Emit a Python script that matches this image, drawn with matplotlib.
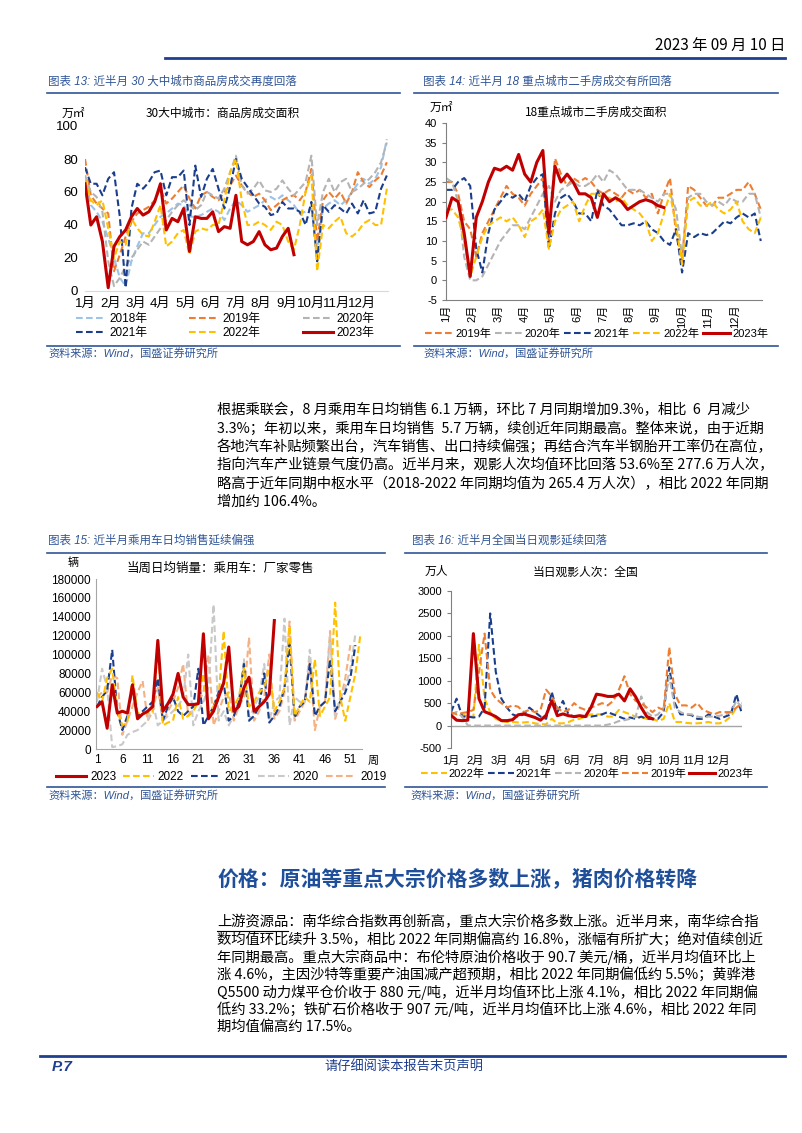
import numpy as np
import matplotlib.pyplot as plt
from matplotlib.lines import Line2D

plt.rcParams['font.family'] = ['Liberation Sans', 'Noto Sans CJK SC']
plt.rcParams['axes.unicode_minus'] = False

# ---------------- data ----------------
months = ['1月', '2月', '3月', '4月', '5月', '6月', '7月', '8月', '9月', '10月', '11月', '12月']

# chart 13: 30 city new home sales, weekly (万㎡)
c13_2018 = [70, 52, 48, 42, 32, 20, 8, 3, 18, 27, 35, 35, 40, 45, 47, 50, 53, 52, 45, 45,
            46, 48, 50, 48, 43, 50, 55, 52, 48, 50, 52, 55, 57, 55, 58, 55, 52, 47, 48, 50,
            25, 50, 53, 55, 52, 55, 60, 65, 68, 65, 68, 75, 92]
c13_2019 = [80, 58, 53, 50, 47, 12, 22, 33, 42, 47, 49, 51, 55, 62, 53, 56, 60, 64, 56, 50,
            58, 60, 57, 55, 60, 64, 70, 64, 60, 57, 59, 55, 49, 52, 55, 57, 58, 55, 60, 74,
            30, 55, 60, 56, 60, 53, 60, 72, 66, 63, 67, 70, 78]
c13_2020 = [70, 60, 57, 48, 18, 3, 8, 15, 20, 25, 30, 28, 33, 38, 43, 48, 52, 55, 52, 49,
            52, 60, 58, 56, 62, 72, 82, 64, 59, 62, 67, 61, 60, 62, 67, 62, 58, 62, 66, 82,
            40, 60, 68, 60, 66, 68, 60, 62, 65, 68, 72, 78, 90]
c13_2021 = [75, 65, 65, 58, 68, 72, 45, 2, 50, 65, 62, 66, 72, 73, 58, 69, 69, 73, 40, 76,
            57, 68, 74, 62, 50, 63, 80, 68, 63, 58, 53, 51, 46, 47, 54, 50, 50, 48, 40, 54,
            18, 52, 48, 52, 50, 47, 53, 47, 55, 47, 48, 62, 70]
c13_2022 = [68, 55, 52, 55, 38, 20, 30, 28, 44, 38, 34, 33, 42, 52, 27, 30, 35, 37, 22, 36,
            38, 37, 40, 40, 55, 72, 80, 55, 40, 40, 42, 40, 37, 42, 40, 30, 25, 40, 60, 70,
            12, 40, 38, 42, 45, 35, 33, 36, 41, 43, 40, 40, 62]
c13_2023 = [65, 40, 45, 30, 2, 27, 33, 37, 45, 50, 46, 48, 54, 65, 37, 44, 42, 50, 24, 45,
            44, 44, 48, 36, 39, 38, 58, 30, 28, 30, 36, 28, 25, 26, 33, 38, 22]

# chart 14: 18 city second-hand home sales, weekly (万㎡)
c14_2019 = [25, 25, 22, 15, 13, 6, 12, 15, 18, 21, 24, 22, 21, 19, 22, 24, 26, 10, 31, 27,
            24, 26, 25, 26, 25, 23, 22, 23, 22, 21, 23, 22, 23, 21, 22, 17, 22, 26, 12, 5,
            24, 23, 21, 19, 19, 21, 21, 22, 23, 23, 25, 22, 18]
c14_2020 = [26, 25, 20, 6, 0, 0, 1, 4, 7, 10, 12, 14, 14, 13, 16, 19, 22, 24, 20, 23,
            24, 25, 24, 24, 25, 27, 25, 28, 27, 25, 23, 23, 23, 22, 21, 20, 22, 22, 18, 6,
            21, 22, 22, 20, 19, 20, 19, 21, 20, 20, 22, 22, 16]
c14_2021 = [23, 23, 25, 26, 24, 8, 2, 12, 18, 20, 22, 21, 22, 20, 24, 26, 27, 8, 17, 21,
            22, 20, 17, 17, 15, 23, 19, 18, 16, 14, 14, 14.5, 14, 15, 13, 12, 10, 9, 13, 2,
            12, 11, 12, 11.5, 12, 13.5, 15, 14.5, 16, 17, 16, 17, 10]
c14_2022 = [18, 18, 16, 10, 1, 6, 11, 14, 15, 16, 15, 16, 14, 11, 15, 16, 18, 8, 15, 18,
            19, 20, 15, 19, 22, 22, 21, 21, 20, 21, 19, 18, 17, 15, 10, 12, 17, 22, 14, 4,
            20, 21, 19, 19, 20, 18, 17, 18, 20, 15, 13, 12, 16]
c14_2023 = [16, 21, 20, 12, 1, 16, 20, 25, 28.5, 28, 29, 28, 32, 27, 25, 30, 33, 12, 29, 25,
            27, 25, 22, 22, 21, 16, 22, 20, 21, 20, 18, 19, 20, 20.5, 20, 19, 18.5]

# chart 15: passenger car daily sales by week (辆)
c15_2023 = [45000, 50000, 22000, 68000, 38000, 40000, 38000, 68000, 32000, 37000,
            40000, 45000, 115000, 40000, 48000, 58000, 80000, 55000, 47000, 47000,
            48000, 122000, 32000, 40000, 55000, 70000, 108000, 40000, 45000, 65000,
            76000, 40000, 45000, 50000, 58000, 136000]
c15_2022 = [60000, 50000, 75000, 85000, 40000, 25000, 28000, 78000, 38000, 38000,
            38000, 38000, 110000, 25000, 28000, 30000, 55000, 32000, 35000, 40000,
            50000, 80000, 35000, 45000, 55000, 125000, 40000, 45000, 55000, 85000,
            45000, 50000, 60000, 65000, 85000, 40000, 50000, 65000, 130000, 35000,
            45000, 55000, 50000, 95000, 35000, 45000, 55000, 155000, 55000, 30000,
            55000, 80000, 122000]
c15_2021 = [45000, 55000, 62000, 105000, 40000, 20000, 35000, 65000, 35000, 40000,
            45000, 50000, 75000, 30000, 45000, 55000, 40000, 35000, 40000, 45000,
            85000, 25000, 35000, 45000, 60000, 70000, 30000, 35000, 50000, 90000,
            30000, 35000, 45000, 80000, 28000, 35000, 45000, 65000, 112000, 33000,
            45000, 50000, 90000, 35000, 45000, 50000, 95000, 40000, 50000, 60000,
            75000, 110000]
c15_2020 = [50000, 85000, 65000, 2000, 3000, 5000, 15000, 18000, 20000, 25000,
            30000, 50000, 25000, 30000, 35000, 40000, 45000, 55000, 100000, 25000,
            40000, 50000, 65000, 153000, 30000, 40000, 25000, 35000, 45000, 95000,
            30000, 45000, 55000, 90000, 30000, 50000, 55000, 138000, 25000, 55000,
            50000, 50000, 105000, 35000, 45000, 50000, 120000, 35000, 55000, 65000,
            85000, 122000]
c15_2019 = [55000, 60000, 60000, 78000, 75000, 15000, 30000, 45000, 60000, 72000,
            30000, 40000, 65000, 30000, 40000, 50000, 65000, 90000, 35000, 45000,
            50000, 60000, 100000, 25000, 40000, 55000, 60000, 30000, 45000, 55000,
            118000, 30000, 40000, 55000, 100000, 32000, 40000, 60000, 135000, 30000,
            40000, 50000, 95000, 20000, 45000, 50000, 125000, 32000, 50000, 75000,
            110000]

# chart 16: daily box office attendance, weekly samples (万人)
c16_2022 = [250, 300, 250, 200, 200, 1800, 600, 300, 150, 100, 80, 80, 70, 70, 80, 50, 30, 30, 150, 50,
            50, 80, 130, 150, 200, 250, 250, 250, 200, 200, 350, 300, 250, 200, 180, 150, 150, 100, 150, 500,
            80, 80, 60, 50, 50, 60, 80, 50, 50, 100, 200, 400, 450]
c16_2021 = [300, 600, 200, 200, 180, 200, 400, 2500, 1200, 600, 400, 250, 200, 250, 400, 300, 200, 150, 750, 300,
            550, 250, 200, 200, 200, 200, 220, 250, 300, 250, 200, 150, 180, 150, 200, 150, 150, 150, 300, 1300,
            500, 250, 250, 230, 150, 150, 250, 200, 150, 200, 250, 700, 250]
c16_2020 = [250, 300, 200, 5, 0, 0, 0, 0, 0, 0, 0, 0, 0, 0, 0, 0, 0, 0, 0, 0,
            0, 0, 0, 0, 0, 0, 0, 0, 20, 50, 100, 120, 150, 200, 650, 300, 200, 250, 400, 1100,
            400, 300, 250, 250, 200, 180, 200, 200, 220, 250, 300, 550, 400]
c16_2019 = [300, 250, 280, 300, 350, 1200, 2050, 800, 600, 500, 400, 450, 420, 300, 350, 300, 350, 800, 650, 400,
            300, 350, 500, 400, 350, 400, 450, 500, 450, 550, 800, 1100, 700, 550, 500, 400, 300, 400, 350, 1750,
            700, 450, 450, 400, 500, 350, 300, 250, 300, 300, 300, 400, 500]
c16_2023 = [230, 120, 110, 120, 2050, 600, 310, 260, 200, 110, 110, 130, 240, 260, 220, 180, 120, 230, 550, 220,
            260, 220, 200, 220, 200, 400, 700, 680, 650, 650, 700, 550, 820, 640, 400, 200, 150]

para1 = [
    '根据乘联会，8 月乘用车日均销售 6.1 万辆，环比 7 月同期增加9.3%，相比  6  月减少',
    '3.3%；年初以来，乘用车日均销售  5.7 万辆，续创近年同期最高。整体来说，由于近期',
    '各地汽车补贴频繁出台，汽车销售、出口持续偏强；再结合汽车半钢胎开工率仍在高位，',
    '指向汽车产业链景气度仍高。近半月来，观影人次均值环比回落 53.6%至 277.6 万人次，',
    '略高于近年同期中枢水平（2018-2022 年同期均值为 265.4 万人次），相比 2022 年同期',
    '增加约 106.4%。',
]
para2 = [
    '上游资源品：南华综合指数再创新高，重点大宗价格多数上涨。近半月来，南华综合指',
    '数均值环比续升 3.5%，相比 2022 年同期偏高约 16.8%，涨幅有所扩大；绝对值续创近',
    '年同期最高。重点大宗商品中：布伦特原油价格收于 90.7 美元/桶，近半月均值环比上',
    '涨 4.6%，主因沙特等重要产油国减产超预期，相比 2022 年同期偏低约 5.5%；黄骅港',
    'Q5500 动力煤平仓价收于 880 元/吨，近半月均值环比上涨 4.1%，相比 2022 年同期偏',
    '低约 33.2%；铁矿石价格收于 907 元/吨，近半月均值环比上涨 4.6%，相比 2022 年同',
    '期均值偏高约 17.5%。',
]

# ---------------- styles ----------------
NAVY = '#1A3E8C'
ORANGE = '#ED7D31'
GRAY = '#B4B4B4'
YELLOW = '#FFC000'
RED = '#C00000'
LBLUE = '#9DC3E6'
SALMON = '#F4B183'
TBLUE = '#2F5597'
DASH = (0, (3.2, 1.6))
CJK = ['Noto Sans CJK SC']

W, H = 802, 1133
fig = plt.figure(figsize=(W / 100, H / 100), dpi=100)


def box(x0, y0, x1, y1):
    return [x0 / W, 1 - y1 / H, (x1 - x0) / W, (y1 - y0) / H]


def ftext(x, y, s, **kw):
    kw.setdefault('va', 'center')
    return fig.text(x / W, 1 - y / H, s, **kw)


def hline(x0, x1, y, color=TBLUE, lw=1.2):
    fig.add_artist(Line2D([x0 / W, x1 / W], [1 - y / H] * 2, color=color, lw=lw,
                          transform=fig.transFigure))


def plot_series(ax, x, series):
    out = []
    for vals, lab, col, solid in series:
        if solid:
            ln, = ax.plot(x[:len(vals)], vals, color=col, lw=2.2, label=lab, zorder=5)
        else:
            ln, = ax.plot(x[:len(vals)], vals, color=col, lw=1.5, ls=DASH, label=lab)
        out.append(ln)
    return out


# ---------------- header / footer ----------------
ftext(785, 45, '2023 年 09 月 10 日', ha='right', fontsize=11, family=CJK)
hline(165, 785, 58, color='#1F3F8F', lw=2)
hline(40, 785, 1056, color='#1F3F8F', lw=2)
ftext(52, 1067, 'P.7', fontsize=11, weight='bold', style='italic', color='#1F3F8F')
ftext(404, 1067, '请仔细阅读本报告末页声明', ha='center', fontsize=9.5, color='#1F3F8F', family=CJK)

# ---------------- chart 13 ----------------
ftext(48, 82, '图表 13: 近半月 30 大中城市商品房成交再度回落', fontsize=8.3, color=TBLUE, style='italic')
hline(47, 400, 93)
ax = fig.add_axes(box(85, 126, 388, 291))
wk = np.arange(53)
h = plot_series(ax, wk, [(c13_2018, '2018年', LBLUE, False), (c13_2019, '2019年', ORANGE, False),
                         (c13_2020, '2020年', GRAY, False), (c13_2021, '2021年', NAVY, False),
                         (c13_2022, '2022年', YELLOW, False), (c13_2023, '2023年', RED, True)])
ax.set_xlim(0, 52.2)
ax.set_ylim(0, 100)
ax.set_yticks(range(0, 101, 20))
ax.set_xticks(np.arange(12) * 52 / 12)
ax.set_xticklabels(months)
ax.tick_params(axis='both', length=0, labelsize=9.5, pad=5)
for s in ['top', 'right', 'left']:
    ax.spines[s].set_visible(False)
ax.spines['bottom'].set_color('#D9D9D9')
ftext(62, 113, '万㎡', fontsize=8.5, family=CJK)
ftext(223, 113, '30大中城市：商品房成交面积', ha='center', fontsize=8.5, family=CJK)
order = [0, 3, 1, 4, 2, 5]
fig.legend([h[i] for i in order], [h[i].get_label() for i in order], loc='center',
           bbox_to_anchor=(225 / W, 1 - 326 / H), ncol=3, frameon=False, fontsize=8.5,
           handlelength=2.5, handletextpad=0.3, columnspacing=3.6, labelspacing=0.15)
hline(47, 400, 346)
ftext(48, 353, '资料来源：Wind，国盛证券研究所', fontsize=8, color=TBLUE, style='italic')

# ---------------- chart 14 ----------------
ftext(423, 82, '图表 14: 近半月 18 重点城市二手房成交有所回落', fontsize=8.3, color=TBLUE, style='italic')
hline(414, 778, 93)
ax = fig.add_axes(box(446, 123, 762, 300))
h = plot_series(ax, wk, [(c14_2019, '2019年', ORANGE, False), (c14_2020, '2020年', GRAY, False),
                         (c14_2021, '2021年', NAVY, False), (c14_2022, '2022年', YELLOW, False),
                         (c14_2023, '2023年', RED, True)])
ax.set_xlim(0, 52.2)
ax.set_ylim(-5, 40)
ax.set_yticks(range(-5, 41, 5))
ax.set_xticks(np.arange(12) * 52 / 12)
ax.set_xticklabels(months, rotation=90)
ax.tick_params(axis='y', length=3, labelsize=8, color='#808080')
ax.tick_params(axis='x', length=0, labelsize=8)
for s in ['top', 'right']:
    ax.spines[s].set_visible(False)
ax.spines['left'].set_color('#808080')
ax.spines['bottom'].set_color('#808080')
ftext(430, 107, '万㎡', fontsize=8.5, family=CJK)
ftext(596, 112, '18重点城市二手房成交面积', ha='center', fontsize=8.5, family=CJK)
fig.legend(h, [l.get_label() for l in h], loc='center', bbox_to_anchor=(597 / W, 1 - 334 / H),
           ncol=5, frameon=False, fontsize=8, handlelength=2.5, handletextpad=0.2,
           columnspacing=0.3)
hline(414, 778, 346)
ftext(423, 353, '资料来源：Wind，国盛证券研究所', fontsize=8, color=TBLUE, style='italic')

# ---------------- paragraph 1 ----------------
for i, line in enumerate(para1):
    ftext(217, 410 + i * 18.4, line, fontsize=10.3, family=CJK)

# ---------------- chart 15 ----------------
ftext(48, 541, '图表 15: 近半月乘用车日均销售延续偏强', fontsize=8.3, color=TBLUE, style='italic')
hline(47, 385, 553)
ax = fig.add_axes(box(96, 579, 362, 749))
wk15 = np.arange(1, 54)
h = plot_series(ax, wk15, [(c15_2019, '2019', SALMON, False), (c15_2020, '2020', '#C9C9C9', False),
                           (c15_2021, '2021', NAVY, False), (c15_2022, '2022', YELLOW, False),
                           (c15_2023, '2023', RED, True)])
ax.set_xlim(0.8, 53.3)
ax.set_ylim(0, 180000)
ax.set_yticks(range(0, 180001, 20000))
ax.set_xticks(range(1, 52, 5))
ax.tick_params(axis='both', length=0, labelsize=8.5)
for s in ['top', 'right']:
    ax.spines[s].set_visible(False)
ax.spines['left'].set_color('#A6A6A6')
ax.spines['bottom'].set_color('#A6A6A6')
ftext(68, 563, '辆', fontsize=8, family=CJK)
ftext(220, 568, '当周日均销量：乘用车：厂家零售', ha='center', fontsize=9, family=CJK)
ftext(368, 761, '周', fontsize=8, family=CJK)
h = h[::-1]
fig.legend(h, [l.get_label() for l in h], loc='center', bbox_to_anchor=(221 / W, 1 - 777 / H),
           ncol=5, frameon=False, fontsize=8.5, handlelength=2.6, handletextpad=0.3,
           columnspacing=0.6)
hline(47, 385, 787)
ftext(48, 795, '资料来源：Wind，国盛证券研究所', fontsize=8, color=TBLUE, style='italic')

# ---------------- chart 16 ----------------
ftext(412, 541, '图表 16: 近半月全国当日观影延续回落', fontsize=8.3, color=TBLUE, style='italic')
hline(405, 767, 553)
ax = fig.add_axes(box(451, 591, 742, 748))
ax.axhline(0, color='#A6A6A6', lw=1)
h = plot_series(ax, wk, [(c16_2022, '2022年', YELLOW, False), (c16_2021, '2021年', NAVY, False),
                         (c16_2020, '2020年', GRAY, False), (c16_2019, '2019年', ORANGE, False),
                         (c16_2023, '2023年', RED, True)])
ax.set_xlim(0, 52)
ax.set_ylim(-500, 3000)
ax.set_yticks(range(-500, 3001, 500))
ax.set_xticks(np.arange(12) * 52 / 12)
ax.set_xticklabels(months)
ax.tick_params(axis='y', length=3, labelsize=8, color='#808080')
ax.tick_params(axis='x', length=0, labelsize=8, pad=6)
for s in ['top', 'right', 'bottom']:
    ax.spines[s].set_visible(False)
ax.spines['left'].set_color('#808080')
ftext(425, 571, '万人', fontsize=8.5, family=CJK)
ftext(586, 572, '当日观影人次：全国', ha='center', fontsize=8.5, family=CJK)
fig.legend(h, [l.get_label() for l in h], loc='center', bbox_to_anchor=(587 / W, 1 - 774 / H),
           ncol=5, frameon=False, fontsize=8, handlelength=2.3, handletextpad=0.2,
           columnspacing=0.3)
hline(405, 767, 787)
ftext(410, 795, '资料来源：Wind，国盛证券研究所', fontsize=8, color=TBLUE, style='italic')

# ---------------- section 2 ----------------
ftext(217, 879, '价格：原油等重点大宗价格多数上涨，猪肉价格转降', fontsize=15, weight='bold',
      color='#1F4E9A', family=CJK)
for i, line in enumerate(para2):
    ftext(217, 922 + i * 17.5, line, fontsize=10.3, family=CJK)

# underline the lead-in of paragraph 2
r = fig.canvas.get_renderer()
t = ftext(217, 922, '上游资源品', fontsize=10.3, family=CJK, alpha=0)
bb = t.get_window_extent(r)
hline(217, 217 + bb.width, 931, color='black', lw=0.8)

fig.savefig('out.png', dpi=100)
